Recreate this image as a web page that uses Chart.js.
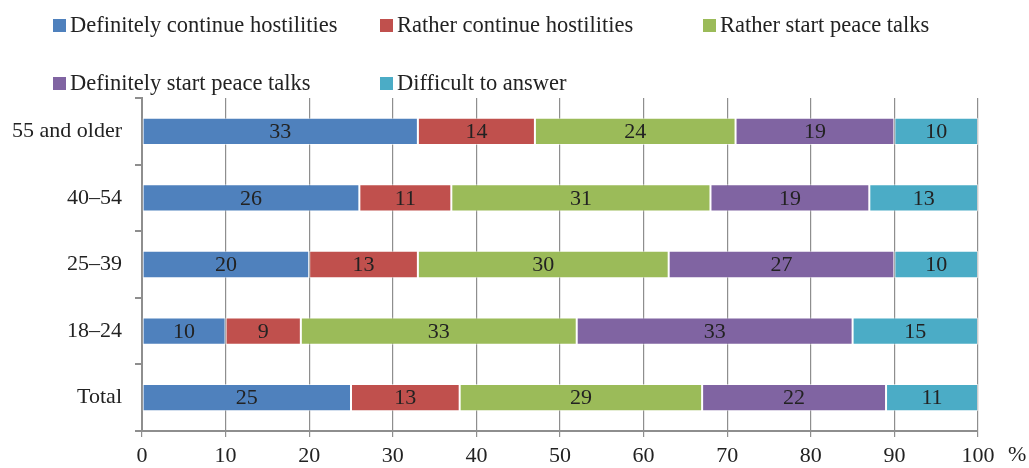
<!DOCTYPE html>
<html>
<head>
<meta charset="utf-8">
<script src="https://cdn.jsdelivr.net/npm/chart.js@4"></script>
<style>
html,body{margin:0;padding:0;background:#fff;}
#wrap{position:relative;width:1029px;height:468px;}
#legend{position:absolute;left:0;top:0;width:1029px;height:100px;font-family:"Liberation Serif","Times New Roman",serif;font-size:22.5px;color:#222;}
.li{position:absolute;display:flex;align-items:center;white-space:nowrap;}
.li span.b{display:inline-block;width:13px;height:13px;margin-right:4px;}
canvas{position:absolute;left:0;top:0;}
</style>
</head>
<body>
<div id="wrap">
<canvas id="c" width="1029" height="468"></canvas>
<div id="legend"></div>
</div>
<script>
const categories = ["55 and older", "40–54", "25–39", "18–24", "Total"];
const seriesNames = ["Definitely continue hostilities", "Rather continue hostilities", "Rather start peace talks", "Definitely start peace talks", "Difficult to answer"];
const definitelyContinue = [33, 26, 20, 10, 25];
const ratherContinue = [14, 11, 13, 9, 13];
const ratherPeace = [24, 31, 30, 33, 29];
const definitelyPeace = [19, 19, 27, 33, 22];
const difficult = [10, 13, 10, 15, 11];
const xTicks = [0, 10, 20, 30, 40, 50, 60, 70, 80, 90, 100];
const colors = ["#4F81BD", "#C0504D", "#9BBB59", "#8064A2", "#4BACC6"];

const seriesValues = [definitelyContinue, ratherContinue, ratherPeace, definitelyPeace, difficult];
const FONT = "'Liberation Serif','Times New Roman',serif";

// HTML legend
const legendPos = [[53, 25], [380, 25], [703, 25], [53, 83], [380, 83]];
const lg = document.getElementById('legend');
seriesNames.forEach((n, i) => {
  const d = document.createElement('div');
  d.className = 'li';
  d.style.left = legendPos[i][0] + 'px';
  d.style.top = (legendPos[i][1] - 13) + 'px';
  d.style.height = '26px';
  d.innerHTML = '<span class="b" style="background:' + colors[i] + '"></span><span>' + n + '</span>';
  lg.appendChild(d);
});

const labelPlugin = {
  id: 'segLabels',
  afterDatasetsDraw(chart) {
    const ctx = chart.ctx;
    ctx.save();
    ctx.font = "22px " + FONT;
    ctx.fillStyle = '#222';
    ctx.textAlign = 'center';
    ctx.textBaseline = 'middle';
    chart.data.datasets.forEach((ds, di) => {
      const meta = chart.getDatasetMeta(di);
      meta.data.forEach((bar, i) => {
        const p = bar.getProps(['x', 'y', 'base'], true);
        ctx.fillText(String(ds.data[i]), (p.x + p.base) / 2, p.y + 1);
      });
    });
    // percent sign
    const xs = chart.scales.x;
    ctx.textAlign = 'left';
    ctx.font = "22px " + FONT;
    ctx.fillText('%', xs.getPixelForValue(100) + 30, xs.top + 24);
    ctx.restore();
  }
};

new Chart(document.getElementById('c'), {
  type: 'bar',
  data: {
    labels: categories,
    datasets: seriesNames.map((n, i) => ({
      label: n,
      data: seriesValues[i],
      backgroundColor: colors[i],
      borderColor: 'rgba(255,255,255,0.55)',
      borderWidth: 1,
      borderSkipped: false,
      barPercentage: 0.41,
      categoryPercentage: 1.0
    }))
  },
  options: {
    indexAxis: 'y',
    responsive: false,
    animation: false,
    devicePixelRatio: 1,
    layout: { padding: { top: 98, right: 51, left: 0, bottom: 0 } },
    plugins: { legend: { display: false }, tooltip: { enabled: false } },
    scales: {
      x: {
        stacked: true,
        min: 0, max: 100,
        afterBuildTicks(s) { s.ticks = xTicks.map(v => ({ value: v })); },
        afterFit(s) { s.height = 37; },
        grid: { color: '#8e8e8e', lineWidth: 1.2, tickLength: 6, drawTicks: true },
        border: { color: '#8e8e8e', width: 2 },
        ticks: { color: '#222', font: { family: FONT, size: 22 }, padding: 6, maxRotation: 0 }
      },
      y: {
        stacked: true,
        afterFit(s) { s.width = 142; },
        grid: { drawOnChartArea: false, color: '#8e8e8e', lineWidth: 2, tickLength: 7, offset: true },
        border: { color: '#8e8e8e', width: 2 },
        ticks: { color: '#222', font: { family: FONT, size: 22 }, padding: 13 }
      }
    }
  },
  plugins: [labelPlugin]
});
</script>
</body>
</html>
